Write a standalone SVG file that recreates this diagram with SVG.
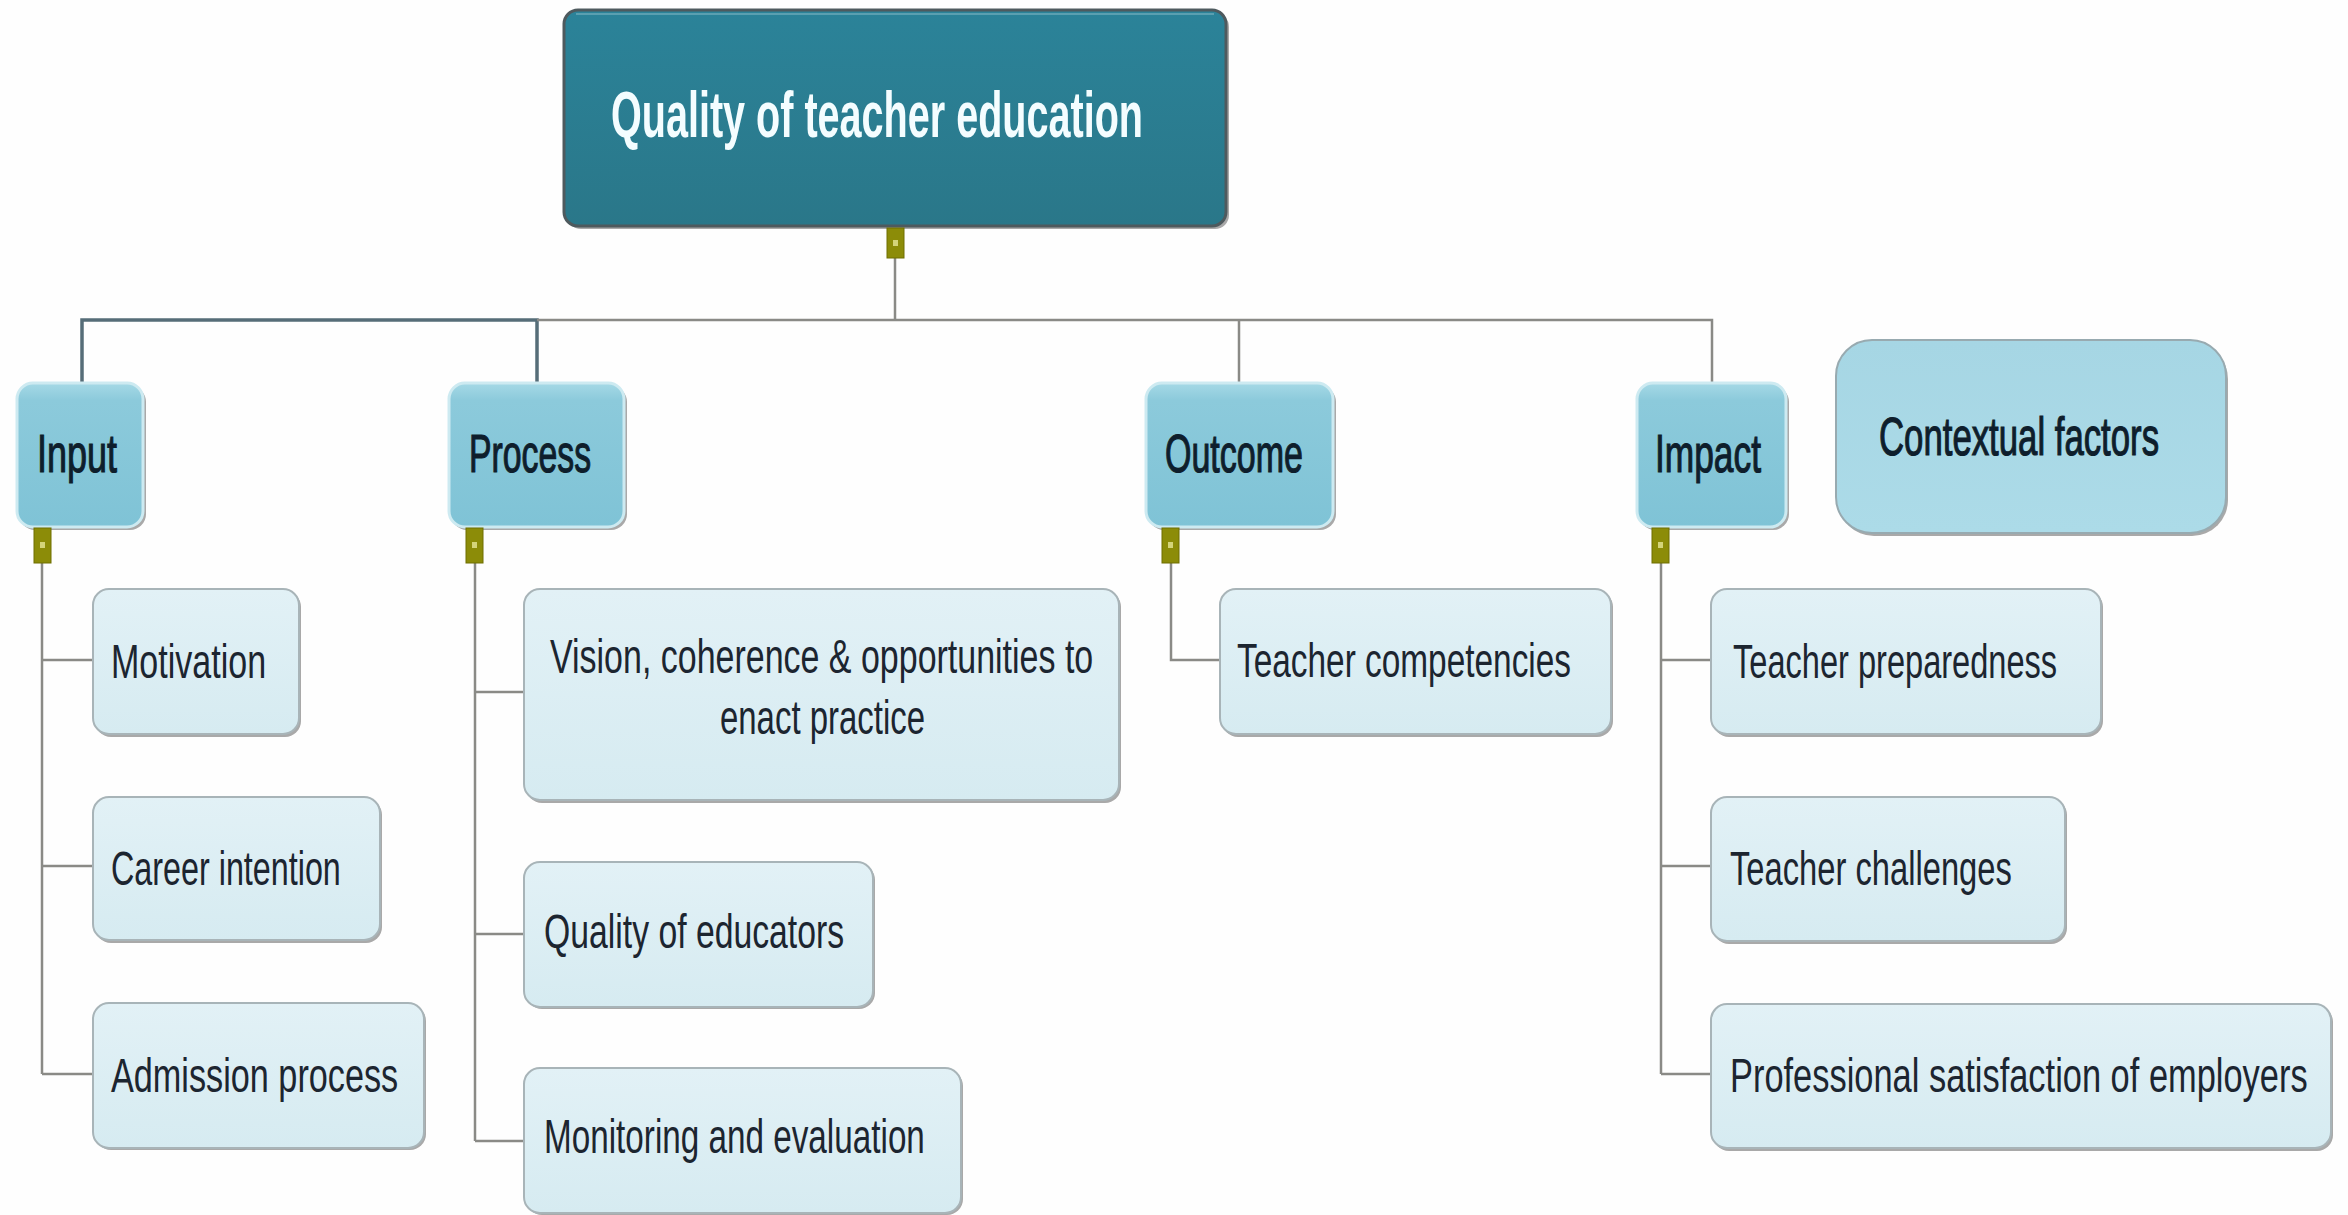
<svg xmlns="http://www.w3.org/2000/svg" width="2348" height="1215" viewBox="0 0 2348 1215">
<defs>
<linearGradient id="gRoot" x1="0" y1="0" x2="0" y2="1">
<stop offset="0" stop-color="#2b8399"/>
<stop offset="1" stop-color="#2a7789"/>
</linearGradient>
<linearGradient id="gBranch" x1="0" y1="0" x2="0" y2="1">
<stop offset="0" stop-color="#a6d9e6"/>
<stop offset="0.12" stop-color="#8ccadb"/>
<stop offset="1" stop-color="#7fc3d6"/>
</linearGradient>
<linearGradient id="gLeaf" x1="0" y1="0" x2="0" y2="1">
<stop offset="0" stop-color="#e2f1f6"/>
<stop offset="1" stop-color="#d6ebf1"/>
</linearGradient>
<linearGradient id="gCtx" x1="0" y1="0" x2="0" y2="1">
<stop offset="0" stop-color="#a6d6e4"/>
<stop offset="1" stop-color="#acdbe8"/>
</linearGradient>
</defs>
<style>
.sh{fill:#a9a9a9}
.root{fill:url(#gRoot);stroke:#4e5a5e;stroke-width:3}
.branch{fill:url(#gBranch);stroke:#cdeaf1;stroke-width:3}
.leaf{fill:url(#gLeaf);stroke:#a8b4b8;stroke-width:2}
.ctx{fill:url(#gCtx);stroke:#98aab0;stroke-width:2}
.tog{fill:#8c8c08;stroke:#6e6e00;stroke-width:1}
.dot{fill:#d4d47a}
.ln{fill:none;stroke:#8a8a86;stroke-width:2.5}
.lnb{fill:none;stroke:#566d78;stroke-width:3.5}
.tRoot{font-family:"Liberation Sans",Arial,sans-serif;font-weight:bold;font-size:64px;fill:#f4fdff}
.tBr{font-family:"Liberation Sans",Arial,sans-serif;font-size:54px;fill:#0e1e2c;stroke:#0e1e2c;stroke-width:1.2}
.tLf{font-family:"Liberation Sans",Arial,sans-serif;font-size:48px;fill:#1c2530}
</style>
<rect width="2348" height="1215" fill="#fefefe"/>

<g id="connectors">
<path class="lnb" d="M82,383 V320 H537 V383"/>
<path class="ln" d="M537,320 H1712 V383 M895,258 V320 M1239,320 V383"/>
<path class="ln" d="M42,563 V1074 M42,660 H93 M42,866 H93 M42,1074 H93"/>
<path class="ln" d="M475,563 V1141 M475,692 H524 M475,934 H524 M475,1141 H524"/>
<path class="ln" d="M1171,563 V660 H1220"/>
<path class="ln" d="M1661,563 V1074 M1661,660 H1711 M1661,866 H1711 M1661,1074 H1711"/>
</g>

<g id="root">
<rect class="sh" x="567" y="13" width="662" height="216" rx="14"/>
<rect class="root" x="564" y="10" width="662" height="216" rx="14"/>
<line x1="576" y1="14" x2="1214" y2="14" stroke="#5a9fb0" stroke-width="2"/>
<text class="tRoot" transform="translate(611,137) scale(0.618,1)" textLength="860.8" lengthAdjust="spacingAndGlyphs">Quality of teacher education</text>
<rect class="tog" x="887" y="228" width="17" height="30"/>
<rect class="dot" x="893" y="240" width="5" height="6"/>
</g>

<g id="input">
<rect class="sh" x="19" y="386" width="127" height="144" rx="16"/>
<rect class="branch" x="17" y="383" width="126" height="144" rx="16"/>
<text class="tBr" transform="translate(37,472) scale(0.666,1)" textLength="120.1" lengthAdjust="spacingAndGlyphs">Input</text>
<rect class="tog" x="34" y="528" width="17" height="35"/>
<rect class="dot" x="40" y="542" width="5" height="6"/>
</g>

<g id="process">
<rect class="sh" x="451" y="386" width="176" height="144" rx="16"/>
<rect class="branch" x="449" y="383" width="175" height="144" rx="16"/>
<text class="tBr" transform="translate(469,472) scale(0.626,1)" textLength="195" lengthAdjust="spacingAndGlyphs">Process</text>
<rect class="tog" x="466" y="528" width="17" height="35"/>
<rect class="dot" x="472" y="542" width="5" height="6"/>
</g>

<g id="outcome">
<rect class="sh" x="1148" y="386" width="188" height="144" rx="16"/>
<rect class="branch" x="1146" y="383" width="187" height="144" rx="16"/>
<text class="tBr" transform="translate(1165,472) scale(0.63,1)" textLength="219" lengthAdjust="spacingAndGlyphs">Outcome</text>
<rect class="tog" x="1162" y="528" width="17" height="35"/>
<rect class="dot" x="1168" y="542" width="5" height="6"/>
</g>

<g id="impact">
<rect class="sh" x="1639" y="386" width="150" height="144" rx="16"/>
<rect class="branch" x="1637" y="383" width="149" height="144" rx="16"/>
<text class="tBr" transform="translate(1655,472) scale(0.654,1)" textLength="162" lengthAdjust="spacingAndGlyphs">Impact</text>
<rect class="tog" x="1652" y="528" width="17" height="35"/>
<rect class="dot" x="1658" y="542" width="5" height="6"/>
</g>

<g id="contextual">
<rect class="sh" x="1838" y="343" width="390" height="193" rx="36"/>
<rect class="ctx" x="1836" y="340" width="390" height="193" rx="36"/>
<text class="tBr" transform="translate(1879,455) scale(0.643,1)" textLength="435.5" lengthAdjust="spacingAndGlyphs">Contextual factors</text>
</g>

<g id="motivation">
<rect class="sh" x="95" y="591" width="206" height="146" rx="16"/>
<rect class="leaf" x="93" y="589" width="206" height="145" rx="16"/>
<text class="tLf" transform="translate(111,678) scale(0.709,1)" textLength="218.7" lengthAdjust="spacingAndGlyphs">Motivation</text>
</g>

<g id="career">
<rect class="sh" x="95" y="799" width="287" height="144" rx="16"/>
<rect class="leaf" x="93" y="797" width="287" height="143" rx="16"/>
<text class="tLf" transform="translate(111,885) scale(0.673,1)" textLength="341.5" lengthAdjust="spacingAndGlyphs">Career intention</text>
</g>

<g id="admission">
<rect class="sh" x="95" y="1005" width="331" height="145" rx="16"/>
<rect class="leaf" x="93" y="1003" width="331" height="145" rx="16"/>
<text class="tLf" transform="translate(111,1092) scale(0.713,1)" textLength="402.8" lengthAdjust="spacingAndGlyphs">Admission process</text>
</g>

<g id="vision">
<rect class="sh" x="526" y="591" width="595" height="212" rx="16"/>
<rect class="leaf" x="524" y="589" width="595" height="211" rx="16"/>
<text class="tLf" transform="translate(550,673) scale(0.707,1)" textLength="768.4" lengthAdjust="spacingAndGlyphs">Vision, coherence &amp; opportunities to</text>
<text class="tLf" transform="translate(720,734) scale(0.686,1)" textLength="298.8" lengthAdjust="spacingAndGlyphs">enact practice</text>
</g>

<g id="educators">
<rect class="sh" x="526" y="864" width="349" height="145" rx="16"/>
<rect class="leaf" x="524" y="862" width="349" height="145" rx="16"/>
<text class="tLf" transform="translate(544,948) scale(0.703,1)" textLength="426.9" lengthAdjust="spacingAndGlyphs">Quality of educators</text>
</g>

<g id="monitoring">
<rect class="sh" x="526" y="1070" width="437" height="145" rx="16"/>
<rect class="leaf" x="524" y="1068" width="437" height="145" rx="16"/>
<text class="tLf" transform="translate(544,1153) scale(0.693,1)" textLength="549.6" lengthAdjust="spacingAndGlyphs">Monitoring and evaluation</text>
</g>

<g id="competencies">
<rect class="sh" x="1222" y="591" width="391" height="146" rx="16"/>
<rect class="leaf" x="1220" y="589" width="391" height="145" rx="16"/>
<text class="tLf" transform="translate(1237,677) scale(0.688,1)" textLength="485.5" lengthAdjust="spacingAndGlyphs">Teacher competencies</text>
</g>

<g id="preparedness">
<rect class="sh" x="1713" y="591" width="390" height="146" rx="16"/>
<rect class="leaf" x="1711" y="589" width="390" height="145" rx="16"/>
<text class="tLf" transform="translate(1733,678) scale(0.675,1)" textLength="480.2" lengthAdjust="spacingAndGlyphs">Teacher preparedness</text>
</g>

<g id="challenges">
<rect class="sh" x="1713" y="799" width="354" height="145" rx="16"/>
<rect class="leaf" x="1711" y="797" width="354" height="144" rx="16"/>
<text class="tLf" transform="translate(1730,885) scale(0.673,1)" textLength="418.8" lengthAdjust="spacingAndGlyphs">Teacher challenges</text>
</g>

<g id="satisfaction">
<rect class="sh" x="1713" y="1006" width="620" height="145" rx="16"/>
<rect class="leaf" x="1711" y="1004" width="620" height="144" rx="16"/>
<text class="tLf" transform="translate(1730,1092) scale(0.717,1)" textLength="805.6" lengthAdjust="spacingAndGlyphs">Professional satisfaction of employers</text>
</g>
</svg>
